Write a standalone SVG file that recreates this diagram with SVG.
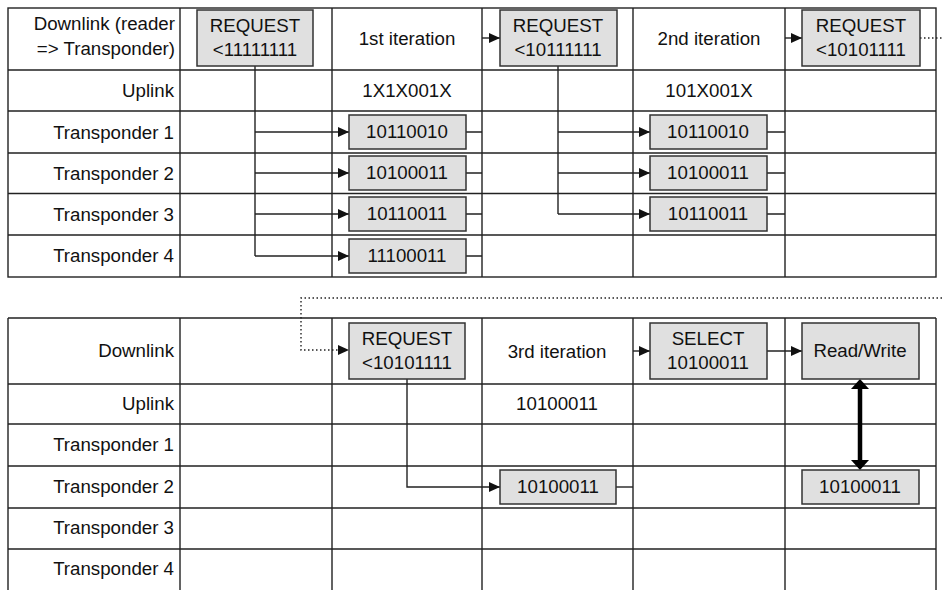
<svg xmlns="http://www.w3.org/2000/svg" width="942" height="590" viewBox="0 0 942 590">
<style>
.grid{stroke:#222;stroke-width:1.4;fill:none}
.box{fill:#e0e0e0;stroke:#333;stroke-width:1.5}
.t{font-family:"Liberation Sans",Arial,sans-serif;font-size:18.7px;fill:#111}
.c{text-anchor:middle}
.r{text-anchor:end}
.ln{stroke:#222;stroke-width:1.4;fill:none}
.dot{stroke:#222;stroke-width:1.4;fill:none;stroke-dasharray:1.5 2.5}
</style>
<defs>
<marker id="ah" markerUnits="userSpaceOnUse" markerWidth="12" markerHeight="12" refX="11" refY="6" orient="auto">
<path d="M0,1 L11,6 L0,11 z" fill="#111"/>
</marker>
</defs>
<rect width="942" height="590" fill="#fff"/>

<g id="grid-top">
<rect class="grid" x="8" y="8" width="928" height="269"/>
<path class="grid" d="M8,70H936M8,111H936M8,153H936M8,193.5H936M8,235H936M180,8V277M332,8V277M482,8V277M633,8V277M785,8V277"/>
</g>
<g id="grid-bottom">
<path class="grid" d="M8,318H936M8,384H936M8,424H936M8,466H936M8,508H936M8,549H936M8,318V590M180,318V590M332,318V590M482,318V590M633,318V590M785,318V590M936,318V590"/>
</g>

<g id="row-labels-top">
<text class="t r" x="175" y="30">Downlink (reader</text>
<text class="t r" x="175" y="55">=&gt; Transponder)</text>
<text class="t r" x="174" y="97">Uplink</text>
<text class="t r" x="174" y="139">Transponder 1</text>
<text class="t r" x="174" y="180">Transponder 2</text>
<text class="t r" x="174" y="221">Transponder 3</text>
<text class="t r" x="174" y="262">Transponder 4</text>
</g>
<g id="row-labels-bottom">
<text class="t r" x="174" y="357">Downlink</text>
<text class="t r" x="174" y="410">Uplink</text>
<text class="t r" x="174" y="451">Transponder 1</text>
<text class="t r" x="174" y="493">Transponder 2</text>
<text class="t r" x="174" y="534">Transponder 3</text>
<text class="t r" x="174" y="575">Transponder 4</text>
</g>

<g id="cell-texts">
<text class="t c" x="407" y="45">1st iteration</text>
<text class="t c" x="407" y="97">1X1X001X</text>
<text class="t c" x="709" y="45">2nd iteration</text>
<text class="t c" x="709" y="97">101X001X</text>
<text class="t c" x="557" y="358">3rd iteration</text>
<text class="t c" x="557" y="410">10100011</text>
</g>

<g id="connectors">
<path class="ln" d="M255,66V256"/>
<path class="ln" d="M255,132H349" marker-end="url(#ah)"/>
<path class="ln" d="M255,173H349" marker-end="url(#ah)"/>
<path class="ln" d="M255,214H349" marker-end="url(#ah)"/>
<path class="ln" d="M255,256H349" marker-end="url(#ah)"/>
<path class="ln" d="M466,132H482M466,173H482M466,214H482M466,256H482"/>
<path class="ln" d="M482,38H500" marker-end="url(#ah)"/>
<path class="ln" d="M558,66V214"/>
<path class="ln" d="M558,132H650" marker-end="url(#ah)"/>
<path class="ln" d="M558,173H650" marker-end="url(#ah)"/>
<path class="ln" d="M558,214H650" marker-end="url(#ah)"/>
<path class="ln" d="M767,132H785M767,173H785M767,214H785"/>
<path class="ln" d="M785,38H802" marker-end="url(#ah)"/>
<path class="dot" d="M920,38H942"/>
<path class="dot" d="M942,298H301V350H338"/>
<path d="M338,345 L349,350 L338,355 z" fill="#111"/>
<path class="ln" d="M407,379V487H500" marker-end="url(#ah)"/>
<path class="ln" d="M616,487H633"/>
<path class="ln" d="M633,351H650" marker-end="url(#ah)"/>
<path class="ln" d="M767,351H802" marker-end="url(#ah)"/>
<path d="M860,387V461" stroke="#000" stroke-width="4.5"/>
<path d="M860,379 L869,389 L851,389 z" fill="#000"/>
<path d="M860,470 L869,460 L851,460 z" fill="#000"/>
</g>

<g id="req1">
<rect class="box" x="197" y="10" width="116" height="56"/>
<text class="t c" x="255" y="32">REQUEST</text>
<text class="t c" x="255" y="56">&lt;11111111</text>
</g>
<g id="req2">
<rect class="box" x="500" y="10" width="117" height="56"/>
<text class="t c" x="558" y="32">REQUEST</text>
<text class="t c" x="558" y="56">&lt;10111111</text>
</g>
<g id="req3">
<rect class="box" x="802" y="10" width="118" height="56"/>
<text class="t c" x="861" y="32">REQUEST</text>
<text class="t c" x="861" y="56">&lt;10101111</text>
</g>
<g id="it1-t1"><rect class="box" x="349" y="115" width="117" height="34"/><text class="t c" x="407" y="138">10110010</text></g>
<g id="it1-t2"><rect class="box" x="349" y="156" width="117" height="34"/><text class="t c" x="407" y="179">10100011</text></g>
<g id="it1-t3"><rect class="box" x="349" y="197" width="117" height="34"/><text class="t c" x="407" y="220">10110011</text></g>
<g id="it1-t4"><rect class="box" x="349" y="239" width="117" height="34"/><text class="t c" x="407" y="262">11100011</text></g>
<g id="it2-t1"><rect class="box" x="650" y="115" width="117" height="34"/><text class="t c" x="708" y="138">10110010</text></g>
<g id="it2-t2"><rect class="box" x="650" y="156" width="117" height="34"/><text class="t c" x="708" y="179">10100011</text></g>
<g id="it2-t3"><rect class="box" x="650" y="197" width="117" height="34"/><text class="t c" x="708" y="220">10110011</text></g>

<g id="req4">
<rect class="box" x="349" y="323" width="116" height="56"/>
<text class="t c" x="407" y="345">REQUEST</text>
<text class="t c" x="407" y="369">&lt;10101111</text>
</g>
<g id="it3-t2"><rect class="box" x="500" y="470" width="116" height="34"/><text class="t c" x="558" y="493">10100011</text></g>
<g id="select">
<rect class="box" x="650" y="323" width="117" height="56"/>
<text class="t c" x="708" y="345">SELECT</text>
<text class="t c" x="708" y="369">10100011</text>
</g>
<g id="readwrite">
<rect class="box" x="802" y="323" width="117" height="56"/>
<text class="t c" x="860" y="357">Read/Write</text>
</g>
<g id="rw-t2"><rect class="box" x="802" y="470" width="117" height="34"/><text class="t c" x="860" y="493">10100011</text></g>
</svg>
